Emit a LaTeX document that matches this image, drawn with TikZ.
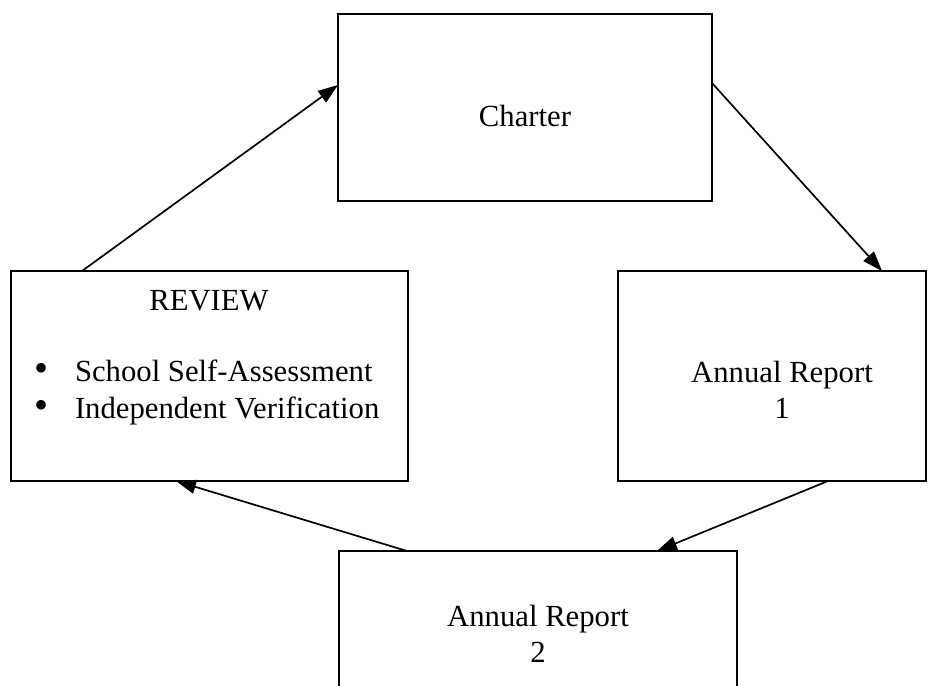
\documentclass[tikz,border=0pt]{standalone}
\usepackage{fontspec}
\setmainfont{Liberation Serif}
\usetikzlibrary{arrows.meta}
\begin{document}
\begin{tikzpicture}[x=1pt,y=-1pt,
  box/.style={draw,line width=2pt,inner sep=0pt,outer sep=0pt,anchor=north west},
  txt/.style={inner sep=0pt,outer sep=0pt,anchor=base,font=\fontsize{30.7}{36}\selectfont},
  txtl/.style={txt,anchor=base west},
  bul/.style={txt,font=\fontsize{40}{40}\selectfont},
  conn/.style={line width=1.7pt,-{Triangle[length=20pt,width=14pt]}}]
\useasboundingbox (0,0) rectangle (936,685);
\clip (0,0) rectangle (936,685);
\fill[white] (0,0) rectangle (936,685);
% boxes
\node[box,minimum width=374pt,minimum height=187pt] (ch) at (338,14) {};
\node[box,minimum width=397pt,minimum height=210pt] (rev) at (11,271) {};
\node[box,minimum width=308pt,minimum height=210pt] (ar1) at (618,271) {};
\node[box,minimum width=398pt,minimum height=210pt] (ar2) at (339,551) {};
% texts
\node[txt] (chT) at (525,126) {Charter};
\node[txt] (revT) at (209,310) {REVIEW};
\node[bul] (b1) at (42,381) {\textbullet};
\node[txtl] (s1) at (75,381) {School Self-Assessment};
\node[bul] (b2) at (42,418) {\textbullet};
\node[txtl] (s2) at (75,418) {Independent Verification};
\node[txt] (a1a) at (782,382) {Annual Report};
\node[txt] (a1b) at (782,418) {1};
\node[txt] (a2a) at (538,626) {Annual Report};
\node[txt] (a2b) at (538,662) {2};
% connectors
\draw[conn] ([xshift=71pt]rev.north west) -- ([yshift=-71pt]ch.north west);
\draw[conn] ([yshift=-69pt]ch.north east) -- ([xshift=264pt]ar1.north west);
\draw[conn] ([xshift=210pt]ar1.south west) -- ([xshift=318pt]ar2.north west);
\draw[conn] ([xshift=68pt]ar2.north west) -- ([xshift=165pt]rev.south west);
\end{tikzpicture}
\end{document}
